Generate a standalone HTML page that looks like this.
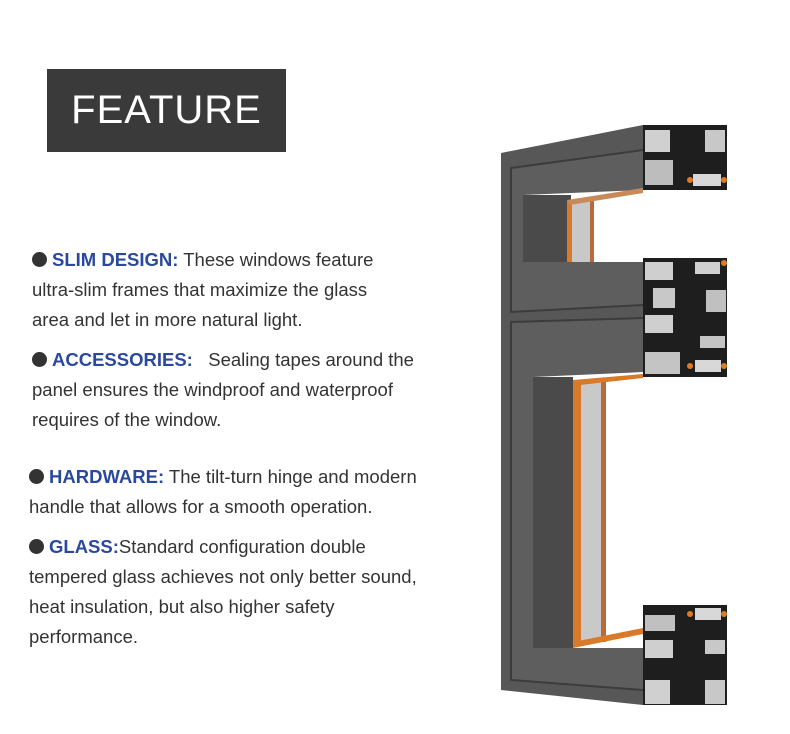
<!DOCTYPE html>
<html><head><meta charset="utf-8"><style>
body{margin:0;width:790px;height:734px;background:#fff;position:relative;overflow:hidden;font-family:"Liberation Sans",sans-serif;}
.box{position:absolute;left:47px;top:69px;width:239px;height:83px;background:#3a3a3a;color:#fff;font-size:40px;line-height:83px;text-align:center;letter-spacing:1px}
.l{position:absolute;white-space:nowrap;font-size:18.5px;color:#333;line-height:20px}
.b{color:#2b48a0;font-weight:bold}
.d{display:inline-block;width:15px;height:15px;border-radius:50%;background:#333;vertical-align:-1px;margin-right:5px}
</style></head><body>
<div class="box">FEATURE</div>
<div class="l" style="left:32px;top:250px"><span class="d"></span><span class="b">SLIM DESIGN:</span> These windows feature</div>
<div class="l" style="left:32px;top:280px">ultra-slim frames that maximize the glass</div>
<div class="l" style="left:32px;top:310px">area and let in more natural light.</div>
<div class="l" style="left:32px;top:350px"><span class="d"></span><span class="b">ACCESSORIES:</span>&nbsp;&nbsp; Sealing tapes around the</div>
<div class="l" style="left:32px;top:380px">panel ensures the windproof and waterproof</div>
<div class="l" style="left:32px;top:410px">requires of the window.</div>
<div class="l" style="left:29px;top:467px"><span class="d"></span><span class="b">HARDWARE:</span> The tilt-turn hinge and modern</div>
<div class="l" style="left:29px;top:497px">handle that allows for a smooth operation.</div>
<div class="l" style="left:29px;top:537px"><span class="d"></span><span class="b">GLASS:</span>Standard configuration double</div>
<div class="l" style="left:29px;top:567px">tempered glass achieves not only better sound,</div>
<div class="l" style="left:29px;top:597px">heat insulation, but also higher safety</div>
<div class="l" style="left:29px;top:627px">performance.</div>
<svg style="position:absolute;left:0;top:0" width="790" height="734">
<polygon points="501,153 643,125 643,705 501,690" fill="#575757"/>
<polyline points="643,150 511,168 511,312 643,305" fill="#5e5e5e" stroke="#3c3c3c" stroke-width="2"/>
<polyline points="643,318 511,322 511,680 643,690" fill="#5e5e5e" stroke="#3c3c3c" stroke-width="2"/>
<polygon points="523,195 643,190 643,262 523,262" fill="#ffffff"/>
<rect x="523" y="195" width="48" height="67" fill="#4a4a4a"/>
<rect x="567" y="200" width="5" height="62" fill="#d97a2a"/>
<rect x="572" y="200" width="20" height="62" fill="#c8c8c8"/>
<rect x="590" y="200" width="4" height="62" fill="#b86a3a"/>
<polygon points="567,200 643,188 643,193 570,205" fill="#c98a5a"/>
<polygon points="533,377 643,372 643,648 533,648" fill="#ffffff"/>
<rect x="533" y="377" width="40" height="271" fill="#4a4a4a"/>
<rect x="573" y="380" width="8" height="262" fill="#d97a2a"/>
<rect x="581" y="380" width="20" height="262" fill="#c9c9c9"/>
<rect x="601" y="380" width="5" height="262" fill="#b86a3a"/>
<polygon points="573,380 643,374 643,378 580,385" fill="#d97a2a"/>
<polygon points="573,642 643,628 643,634 573,648" fill="#d97a2a"/>
<g>
<rect x="643" y="125" width="84" height="65" fill="#1e1e1e"/>
<rect x="645" y="130" width="25" height="22" fill="#d0d0d0"/>
<rect x="705" y="130" width="20" height="22" fill="#c8c8c8"/>
<rect x="645" y="160" width="28" height="25" fill="#bdbdbd"/>
<rect x="693" y="174" width="28" height="12" fill="#d8d8d8"/>
<circle cx="690" cy="180" r="3" fill="#e07a20"/><circle cx="724" cy="180" r="3" fill="#e07a20"/>
<rect x="643" y="258" width="84" height="119" fill="#1e1e1e"/>
<rect x="645" y="262" width="28" height="18" fill="#cfcfcf"/>
<rect x="695" y="262" width="25" height="12" fill="#d0d0d0"/>
<rect x="653" y="288" width="22" height="20" fill="#c8c8c8"/>
<rect x="706" y="290" width="20" height="22" fill="#c0c0c0"/>
<rect x="645" y="315" width="28" height="18" fill="#cfcfcf"/>
<rect x="700" y="336" width="25" height="12" fill="#c4c4c4"/>
<rect x="645" y="352" width="35" height="22" fill="#c4c4c4"/>
<rect x="695" y="360" width="26" height="12" fill="#d8d8d8"/>
<circle cx="690" cy="366" r="3" fill="#e07a20"/><circle cx="724" cy="366" r="3" fill="#e07a20"/>
<circle cx="724" cy="263" r="3" fill="#e07a20"/>
<rect x="643" y="605" width="84" height="100" fill="#1e1e1e"/>
<rect x="695" y="608" width="26" height="12" fill="#d8d8d8"/>
<rect x="645" y="615" width="30" height="16" fill="#c0c0c0"/>
<rect x="645" y="640" width="28" height="18" fill="#cfcfcf"/>
<rect x="705" y="640" width="20" height="14" fill="#c8c8c8"/>
<rect x="645" y="680" width="25" height="24" fill="#d0d0d0"/>
<rect x="705" y="680" width="20" height="24" fill="#c8c8c8"/>
<circle cx="690" cy="614" r="3" fill="#e07a20"/><circle cx="724" cy="614" r="3" fill="#e07a20"/>
</g>
</svg>
</body></html>
